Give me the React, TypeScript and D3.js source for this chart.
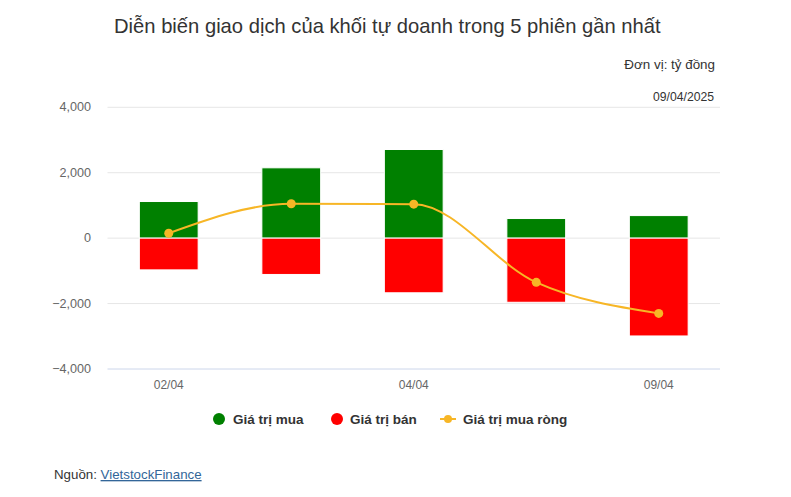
import { useEffect, useRef } from 'react';
import * as d3 from 'd3';

const sessions = ['02/04', '03/04', '04/04', '08/04', '09/04'];
const buyValues = [1120, 2150, 2710, 600, 690];
const sellValues = [-970, -1110, -1670, -1960, -2990];
const netValues = [150, 1050, 1040, -1350, -2300];
const yTicks = [-4000, -2000, 0, 2000, 4000];
const shownLabels = ['02/04', '04/04', '09/04'];

export default function App() {
  const ref = useRef<SVGSVGElement>(null);

  useEffect(() => {
    if (!ref.current) return;
    const svg = d3.select(ref.current);
    svg.selectAll('*').remove();

    const width = 791;
    const height = 497;
    const left = 107.5;
    const right = 720;
    const top = 107.3;
    const bottom = 369;
    const font = "'Liberation Sans', Arial, sans-serif";

    svg.attr('width', width).attr('height', height);

    const x = d3.scaleBand<string>().domain(sessions).range([left, right]).paddingInner(0.52).paddingOuter(0.26);
    const y = d3.scaleLinear().domain([-4000, 4000]).range([bottom, top]);

    // title and notes
    svg.append('text').attr('x', 114).attr('y', 33).attr('font-family', font).attr('font-size', 20.2)
      .attr('fill', '#333').text('Diễn biến giao dịch của khối tự doanh trong 5 phiên gần nhất');
    svg.append('text').attr('x', 715).attr('y', 69).attr('text-anchor', 'end').attr('font-family', font)
      .attr('font-size', 13.4).attr('fill', '#333').text('Đơn vị: tỷ đồng');
    svg.append('text').attr('x', 714).attr('y', 101).attr('text-anchor', 'end').attr('font-family', font)
      .attr('font-size', 12.2).attr('fill', '#333').text('09/04/2025');

    // grid
    svg.append('g').selectAll('line').data(yTicks).enter().append('line')
      .attr('x1', left).attr('x2', right)
      .attr('y1', (d) => y(d)).attr('y2', (d) => y(d))
      .attr('stroke', (d) => (d === -4000 ? '#ccd6eb' : '#e6e6e6')).attr('stroke-width', 1);

    svg.append('g').selectAll('text').data(yTicks).enter().append('text')
      .attr('x', 91).attr('y', (d) => y(d) + 4).attr('text-anchor', 'end')
      .attr('font-family', font).attr('font-size', 12.6).attr('fill', '#666')
      .text((d) => d3.format(',')(d));

    svg.append('g').selectAll('text').data(shownLabels).enter().append('text')
      .attr('x', (d) => x(d)! + x.bandwidth() / 2).attr('y', 389).attr('text-anchor', 'middle')
      .attr('font-family', font).attr('font-size', 12).attr('fill', '#666').text((d) => d);

    // bars
    svg.append('g').selectAll('rect').data(buyValues).enter().append('rect')
      .attr('x', (_, i) => x(sessions[i])!).attr('width', x.bandwidth())
      .attr('y', (d) => y(d)).attr('height', (d) => y(0) - y(d))
      .attr('fill', '#008000').attr('stroke', '#fff').attr('stroke-width', 1);

    svg.append('g').selectAll('rect').data(sellValues).enter().append('rect')
      .attr('x', (_, i) => x(sessions[i])!).attr('width', x.bandwidth())
      .attr('y', y(0)).attr('height', (d) => y(d) - y(0))
      .attr('fill', '#ff0000').attr('stroke', '#fff').attr('stroke-width', 1);

    // net line
    const pts: [number, number][] = netValues.map((v, i) => [x(sessions[i])! + x.bandwidth() / 2, y(v)]);
    const line = d3.line().curve(d3.curveMonotoneX);
    svg.append('path').attr('d', line(pts)!).attr('fill', 'none').attr('stroke', '#f7b626').attr('stroke-width', 2);
    svg.append('g').selectAll('circle').data(pts).enter().append('circle')
      .attr('cx', (d) => d[0]).attr('cy', (d) => d[1]).attr('r', 4.5).attr('fill', '#f7b626');

    // legend
    const lg = svg.append('g').attr('font-family', font).attr('font-size', 13.5).attr('font-weight', 'bold').attr('fill', '#333');
    lg.append('circle').attr('cx', 219).attr('cy', 419).attr('r', 6).attr('fill', '#008000');
    lg.append('text').attr('x', 233).attr('y', 424).text('Giá trị mua');
    lg.append('circle').attr('cx', 337).attr('cy', 419).attr('r', 6).attr('fill', '#ff0000');
    lg.append('text').attr('x', 350).attr('y', 424).text('Giá trị bán');
    lg.append('line').attr('x1', 440).attr('x2', 456).attr('y1', 419).attr('y2', 419).attr('stroke', '#f7b626').attr('stroke-width', 2);
    lg.append('circle').attr('cx', 448).attr('cy', 419).attr('r', 4).attr('fill', '#f7b626');
    lg.append('text').attr('x', 463).attr('y', 424).text('Giá trị mua ròng');

    // source
    const src = svg.append('text').attr('x', 54).attr('y', 479).attr('font-family', font).attr('font-size', 13.3).attr('fill', '#333');
    src.append('tspan').text('Nguồn: ');
    src.append('tspan').attr('fill', '#336699').attr('text-decoration', 'underline').text('VietstockFinance');
  }, []);

  return <svg ref={ref} style={{ position: 'absolute', left: 0, top: 0 }} />;
}
